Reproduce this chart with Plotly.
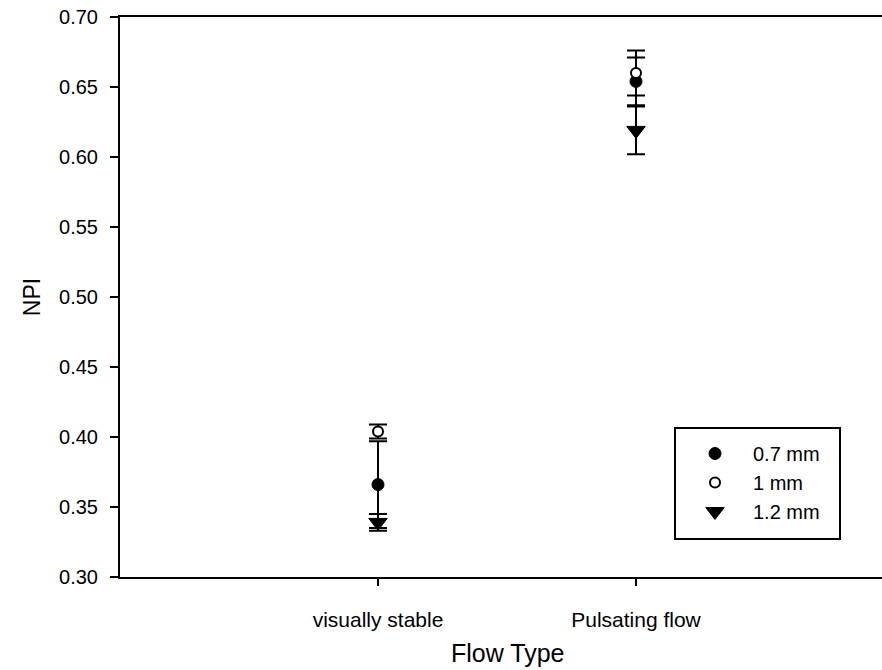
import plotly.graph_objects as go

# Flow type categories (plotted at x = 1, 2)
flow_types = ["visually stable", "Pulsating flow"]
flow_pos = [1, 2]

# NPI mean and error (±) for each orifice diameter
npi_07 = [0.366, 0.654]
err_07 = [0.031, 0.017]

npi_10 = [0.404, 0.660]
err_10 = [0.005, 0.016]

npi_12 = [0.339, 0.619]
err_12 = [0.006, 0.017]

y_ticks = [0.30, 0.35, 0.40, 0.45, 0.50, 0.55, 0.60, 0.65, 0.70]

FONT = "Liberation Sans, Arial, sans-serif"

def err_bar(values):
    return dict(type="data", array=values, visible=True,
                color="black", thickness=2, width=9)

fig = go.Figure()

fig.add_trace(go.Scatter(
    x=flow_pos, y=npi_07, mode="markers", name="0.7 mm",
    error_y=err_bar(err_07),
    marker=dict(symbol="circle", size=12, color="black",
                line=dict(color="black", width=1)),
))
fig.add_trace(go.Scatter(
    x=flow_pos, y=npi_10, mode="markers", name="1 mm",
    error_y=err_bar(err_10),
    marker=dict(symbol="circle", size=10, color="white",
                line=dict(color="black", width=2)),
))
fig.add_trace(go.Scatter(
    x=flow_pos, y=npi_12, mode="markers", name="1.2 mm",
    error_y=err_bar(err_12),
    marker=dict(symbol="triangle-down", size=16, color="black",
                line=dict(color="black", width=1)),
))

fig.update_layout(
    width=882, height=670,
    margin=dict(l=120, r=0, t=17, b=93),
    paper_bgcolor="white", plot_bgcolor="white",
    font=dict(family=FONT, color="black", size=20),
    showlegend=True,
    legend=dict(
        x=(677 - 120) / 762, y=1 - (434 - 17) / 560,
        xanchor="left", yanchor="top",
        bgcolor="rgba(0,0,0,0)", borderwidth=0,
        font=dict(family=FONT, size=20, color="black"),
        itemwidth=66, traceorder="normal",
    ),
    xaxis=dict(
        range=[0, 762 / 258],
        tickmode="array", tickvals=flow_pos, ticktext=flow_types,
        ticks="outside", ticklen=7, tickwidth=2, tickcolor="black",
        showline=True, linecolor="black", linewidth=2, mirror=True,
        showgrid=False, zeroline=False,
        tickfont=dict(family=FONT, size=21),
        ticklabelstandoff=16,
    ),
    yaxis=dict(
        range=[0.30, 0.70],
        tickmode="array", tickvals=y_ticks,
        ticktext=[f"{v:.2f}" for v in y_ticks],
        ticks="outside", ticklen=8, tickwidth=2, tickcolor="black",
        showline=True, linecolor="black", linewidth=2,
        showgrid=False, zeroline=False,
        tickfont=dict(family=FONT, size=20),
        ticklabelstandoff=8,
        title=dict(text="NPI", font=dict(family=FONT, size=23), standoff=12),
    ),
    shapes=[
        # legend frame
        dict(type="rect", xref="paper", yref="paper",
             x0=(675 - 120) / 762, x1=(840 - 120) / 762,
             y0=1 - (539 - 17) / 560, y1=1 - (428 - 17) / 560,
             line=dict(color="black", width=2), fillcolor="rgba(0,0,0,0)"),
    ],
    annotations=[
        dict(text="Flow Type", x=1.5, xref="x", y=-(653 - 577) / 560, yref="paper",
             showarrow=False, xanchor="center", yanchor="middle",
             font=dict(family=FONT, size=25, color="black")),
    ],
)

fig.write_html("out.html")
